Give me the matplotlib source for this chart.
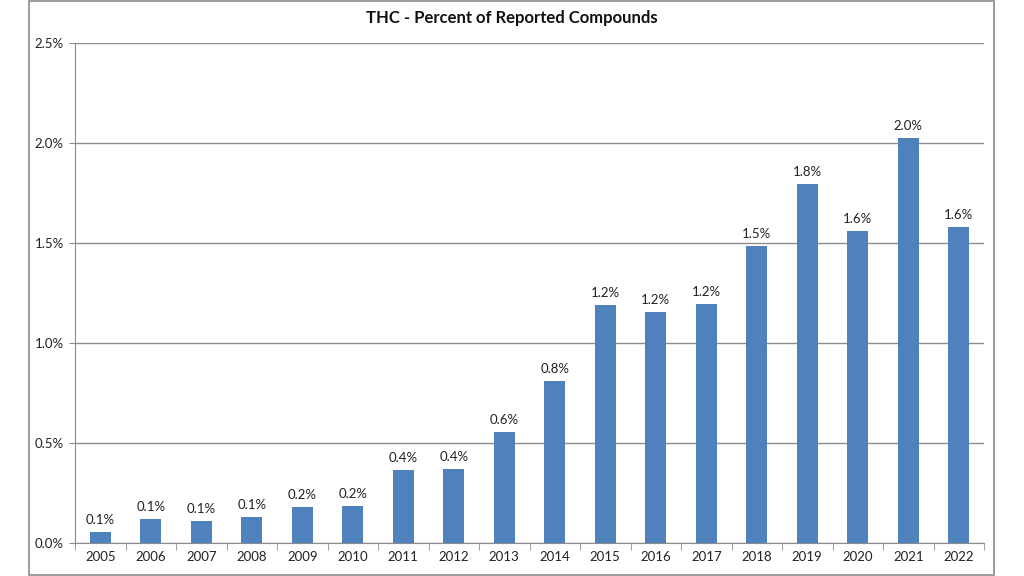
import matplotlib.pyplot as plt
from matplotlib.patches import Rectangle
from matplotlib.ticker import FuncFormatter, FixedLocator

plt.rcParams['font.family'] = ['Lato', 'DejaVu Sans']

years = ['2005', '2006', '2007', '2008', '2009', '2010', '2011', '2012', '2013',
         '2014', '2015', '2016', '2017', '2018', '2019', '2020', '2021', '2022']
pct = [0.055, 0.12, 0.11, 0.13, 0.18, 0.185, 0.365, 0.37, 0.555,
       0.81, 1.19, 1.155, 1.195, 1.485, 1.795, 1.56, 2.025, 1.58]

fig = plt.figure(figsize=(10.24, 5.76), dpi=100)
ax = fig.add_axes([75 / 1024, 33 / 576, 909 / 1024, 500 / 576])

# outer chart border
fig.patches.append(Rectangle((29 / 1024, 1 / 576), 965 / 1024, 574 / 576,
                             transform=fig.transFigure, fill=False,
                             edgecolor='#8c8c8c', linewidth=1.2))

x = range(len(years))
bars = ax.bar(x, pct, width=0.42, color='#4f81bd', zorder=3)

for b, v in zip(bars, pct):
    ax.text(b.get_x() + b.get_width() / 2, v + 0.03, f'{v:.1f}%',
            ha='center', va='bottom', fontsize=9.5, color='#222222')

ax.set_xlim(-0.5, len(years) - 0.5)
ax.set_ylim(0, 2.5)
ax.set_yticks([0, 0.5, 1.0, 1.5, 2.0, 2.5])
ax.yaxis.set_major_formatter(FuncFormatter(lambda v, p: f'{v:.1f}%'))
ax.set_xticks(list(x))
ax.set_xticklabels(years)
ax.xaxis.set_minor_locator(FixedLocator([i - 0.5 for i in range(len(years) + 1)]))
ax.tick_params(axis='x', which='major', length=0, labelsize=9.5, pad=6, colors='#222222')
ax.tick_params(axis='x', which='minor', length=5, color='#8c8c8c')
ax.tick_params(axis='y', length=4, color='#8c8c8c', labelsize=9.5, labelcolor='#222222', pad=4)

ax.grid(axis='y', color='#8c8c8c', linewidth=1, zorder=0)
for s in ['top', 'right']:
    ax.spines[s].set_visible(False)
ax.spines['left'].set_color('#8c8c8c')
ax.spines['bottom'].set_color('#8c8c8c')

fig.text(512 / 1024, 1 - 18 / 576, 'THC - Percent of Reported Compounds',
         ha='center', va='center', fontsize=12, fontweight='bold', color='#111111')

fig.savefig('out.png', dpi=100)
